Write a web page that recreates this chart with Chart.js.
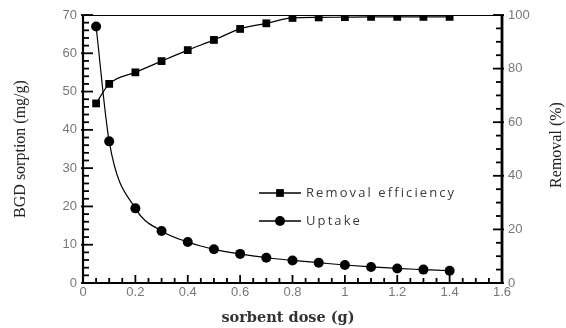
<!DOCTYPE html>
<html>
<head>
<meta charset="utf-8">
<script src="https://cdn.jsdelivr.net/npm/chart.js@4.4.1/dist/chart.umd.min.js"></script>
<style>
    body { margin: 0; background: #fff; }
    #wrap { width: 566px; height: 328px; }
</style>
</head>
<body>
<div id="wrap"><canvas id="myChart" width="566" height="328"></canvas></div>
<script>
"use strict";

// sorbent dose (g)
const doses = [0.05, 0.1, 0.2, 0.3, 0.4, 0.5, 0.6, 0.7, 0.8, 0.9, 1.0, 1.1, 1.2, 1.3, 1.4];
// uptake (mg/g), left axis
const uptake = [67, 37, 19.5, 13.6, 10.7, 8.8, 7.6, 6.6, 5.9, 5.3, 4.7, 4.2, 3.8, 3.5, 3.2];
// removal efficiency (%), right axis
const removal = [67, 74.3, 78.6, 82.8, 86.9, 90.7, 94.8, 96.9, 98.9, 99.1, 99.2, 99.3, 99.3, 99.3, 99.3];

const xTicks = [0, 0.2, 0.4, 0.6, 0.8, 1, 1.2, 1.4, 1.6];
const leftTicks = [0, 10, 20, 30, 40, 50, 60, 70];
const rightTicks = [0, 20, 40, 60, 80, 100];

const legendLabels = ["Removal efficiency", "Uptake"];

function points(ys) {
    let out = [];
    for (let i = 0; i < doses.length; i++) {
        out.push({ x: doses[i], y: ys[i] });
    }
    return out;
}

const tickFont = { family: "Liberation Sans", size: 13 };
const tickColor = "#777";

function seg(ctx, x1, y1, x2, y2) {
    ctx.beginPath();
    ctx.moveTo(x1, y1);
    ctx.lineTo(x2, y2);
    ctx.stroke();
}

// frame, inward ticks, legend and axis titles
const decorations = {
    id: "decorations",
    afterDraw(chart) {
        let ctx = chart.ctx;
        let a = chart.chartArea;
        ctx.save();
        ctx.strokeStyle = "#000";

        // top line
        ctx.lineWidth = 1;
        seg(ctx, a.left, a.top + 0.5, a.right, a.top + 0.5);
        // left, bottom, right axes
        ctx.lineWidth = 2.2;
        seg(ctx, a.left, a.top, a.left, a.bottom + 1);
        seg(ctx, a.left - 1, a.bottom, a.right, a.bottom);
        ctx.lineWidth = 2.8;
        seg(ctx, a.right, a.top, a.right, a.bottom + 1);

        // tick marks pointing into the plot
        ctx.lineWidth = 1.8;
        for (let i = 0; i <= 32; i++) {
            let px = a.left + (a.right - a.left) * i / 32;
            seg(ctx, px, a.bottom, px, a.bottom - (i % 4 === 0 ? 8 : 5));
        }
        for (let i = 0; i <= 35; i++) {
            let py = a.bottom - (a.bottom - a.top) * i / 35;
            let major = i % 5 === 0;
            seg(ctx, a.left - (major ? 2 : 0), py, a.left + (major ? 10 : 6), py);
        }
        for (let i = 0; i <= 20; i++) {
            let py = a.bottom - (a.bottom - a.top) * i / 20;
            let major = i % 4 === 0;
            seg(ctx, a.right + (major ? 2 : 0), py, a.right - (major ? 9 : 6), py);
        }

        // legend
        let styles = ["rect", "circle"];
        let ly = [193, 221];
        for (let i = 0; i < legendLabels.length; i++) {
            ctx.strokeStyle = "#000";
            ctx.lineWidth = 1.6;
            seg(ctx, 259, ly[i], 301, ly[i]);
            ctx.fillStyle = "#000";
            Chart.helpers.drawPoint(ctx, { pointStyle: styles[i], radius: i === 0 ? 5.5 : 5, borderWidth: 0 }, 280, ly[i]);
            ctx.fillStyle = "#3a3a3a";
            ctx.font = "13px 'Open Sans'";
            ctx.letterSpacing = "2.1px";
            ctx.textAlign = "left";
            ctx.textBaseline = "middle";
            ctx.fillText(legendLabels[i], 306, ly[i]);
        }
        ctx.letterSpacing = "0px";

        // axis titles
        ctx.fillStyle = "#222";
        ctx.font = "16px 'Liberation Serif'";
        ctx.textAlign = "center";
        ctx.textBaseline = "middle";
        ctx.save();
        ctx.translate(21, (a.top + a.bottom) / 2);
        ctx.rotate(-Math.PI / 2);
        ctx.fillText("BGD sorption (mg/g)", 0, 0);
        ctx.restore();
        ctx.save();
        ctx.translate(557, 145);
        ctx.rotate(-Math.PI / 2);
        ctx.fillText("Removal (%)", 0, 0);
        ctx.restore();
        ctx.font = "bold 14.5px 'DejaVu Serif'";
        ctx.fillStyle = "#333";
        ctx.fillText("sorbent dose (g)", 288, 318);

        ctx.restore();
    }
};

let chart = new Chart(document.getElementById("myChart"), {
    type: "scatter",
    data: {
        datasets: [
            {
                label: legendLabels[0],
                data: points(removal),
                yAxisID: "y1",
                showLine: true,
                cubicInterpolationMode: "monotone",
                borderColor: "#000",
                borderWidth: 1.2,
                backgroundColor: "#000",
                pointStyle: "rect",
                pointRadius: 5.5,
                pointBorderWidth: 0
            },
            {
                label: legendLabels[1],
                data: points(uptake),
                yAxisID: "y",
                showLine: true,
                cubicInterpolationMode: "monotone",
                borderColor: "#000",
                borderWidth: 1.2,
                backgroundColor: "#000",
                pointStyle: "circle",
                pointRadius: 5,
                pointBorderWidth: 0
            }
        ]
    },
    options: {
        responsive: false,
        animation: false,
        layout: { padding: { top: 15, left: 0, right: 0, bottom: 0 } },
        plugins: {
            legend: { display: false },
            tooltip: { enabled: false }
        },
        scales: {
            x: {
                type: "linear",
                min: 0,
                max: 1.6,
                grid: { display: false, drawTicks: false },
                border: { display: false },
                afterBuildTicks: function (s) { s.ticks = xTicks.map(v => ({ value: v })); },
                afterFit: function (s) { s.height = 45; },
                ticks: {
                    padding: 2,
                    font: tickFont,
                    color: tickColor,
                    maxRotation: 0,
                    callback: v => String(+v.toFixed(1))
                }
            },
            y: {
                type: "linear",
                position: "left",
                min: 0,
                max: 70,
                grid: { display: false, drawTicks: false },
                border: { display: false },
                afterBuildTicks: function (s) { s.ticks = leftTicks.map(v => ({ value: v })); },
                afterFit: function (s) { s.width = 83; },
                ticks: { padding: 6, font: tickFont, color: tickColor }
            },
            y1: {
                type: "linear",
                position: "right",
                min: 0,
                max: 100,
                grid: { display: false, drawTicks: false },
                border: { display: false },
                afterBuildTicks: function (s) { s.ticks = rightTicks.map(v => ({ value: v })); },
                afterFit: function (s) { s.width = 64; },
                ticks: { padding: 6, font: tickFont, color: tickColor }
            }
        }
    },
    plugins: [decorations]
});
</script>
</body>
</html>
